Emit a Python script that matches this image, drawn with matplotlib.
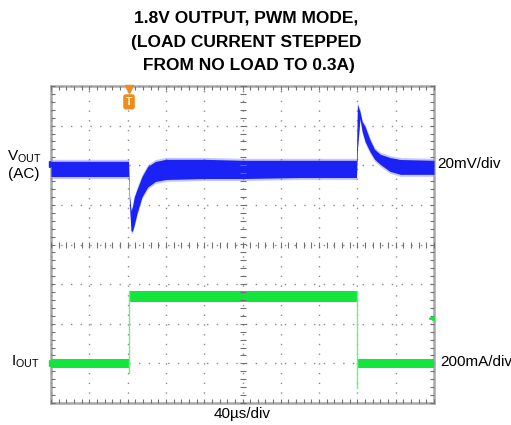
import numpy as np
import matplotlib
matplotlib.use("Agg")
import matplotlib.pyplot as plt
from matplotlib.ticker import MultipleLocator

# --- scope settings (per division) ---
T_DIV = 40.0      # us/div
V_DIV = 20.0      # mV/div
I_DIV = 200.0     # mA/div

# --- VOUT (AC) trace envelope, screen position in mV from graticule centre ---
vout_t = [0, 81, 82, 83.5, 85, 87, 90, 95, 101, 109, 120, 160, 200, 260, 319,
          320, 322.7, 325, 328, 333, 338, 344, 354, 365, 400]
vout_hi = [42, 42, 25, 17, 19, 24, 28, 34.3, 39.4, 41.9, 43, 43, 42.5, 42.5, 42.5,
           70.7, 67.2, 62, 59.6, 53, 48, 45.5, 43.9, 42.9, 42.5]
vout_lo = [34.3, 34.3, 20, 7, 6.6, 10, 16, 24, 29, 31.8, 32.8, 33.3, 33.3, 33.8, 33.8,
           48, 63.6, 57, 52, 47, 43, 40.4, 36.9, 35.4, 35.4]

# --- IOUT trace, screen position in mA from graticule centre ---
iout_low_hi = -576
iout_low_lo = -621
iout_high_hi = -237
iout_high_lo = -288
t_rise = 81.5
t_fall = 319.6
iout_rise_min = -651
iout_fall_min = -722

TITLE = "1.8V OUTPUT, PWM MODE,\n(LOAD CURRENT STEPPED\n FROM NO LOAD TO 0.3A)"

BLUE = "#1a22f5"
GREEN = "#12e63c"
GRID = "#8a8a8a"

fig = plt.figure(figsize=(5.11, 4.25), dpi=100)
ax = fig.add_axes([51 / 511, 22 / 425, 383 / 511, 317 / 425])
ax.set_xlim(0, 10)
ax.set_ylim(-4, 4)

# graticule
for s in ax.spines.values():
    s.set_color("#a8a8a8")
    s.set_linewidth(1.8)
ax.xaxis.set_major_locator(MultipleLocator(1))
ax.yaxis.set_major_locator(MultipleLocator(1))
ax.xaxis.set_minor_locator(MultipleLocator(0.2))
ax.yaxis.set_minor_locator(MultipleLocator(0.2))
ax.tick_params(which="both", direction="in", length=3, width=0.8, color="#707070",
               top=True, right=True, labelbottom=False, labelleft=False)
ax.grid(True, which="major", color=GRID, linestyle=(0, (1, 6)), linewidth=1.0, zorder=5)
ax.set_axisbelow(False)

# centre crosshair with small ticks
minor = np.arange(0, 10.001, 0.2)
ax.plot(minor, np.zeros_like(minor), ls="none", marker="|", ms=5, mew=0.8,
        color="#707070", zorder=5)
ymin = np.arange(-4, 4.001, 0.2)
ax.plot(np.full_like(ymin, 5), ymin, ls="none", marker="_", ms=5, mew=0.8,
        color="#707070", zorder=5)

# VOUT trace
vt = np.array(vout_t) / T_DIV
vh = np.array(vout_hi) / V_DIV
vl = np.array(vout_lo) / V_DIV
ax.fill_between(vt, vl - 0.05, vh + 0.05, color=BLUE, alpha=0.25, lw=0, zorder=2)
ax.fill_between(vt, vl, vh, color=BLUE, lw=0, zorder=3)

# IOUT trace
r, f = t_rise / T_DIV, t_fall / T_DIV
ax.fill_between([0, r], iout_low_lo / I_DIV, iout_low_hi / I_DIV, color=GREEN, lw=0, zorder=3)
ax.fill_between([r + 0.03, f], iout_high_lo / I_DIV, iout_high_hi / I_DIV, color=GREEN, lw=0, zorder=3)
ax.fill_between([f + 0.02, 10], iout_low_lo / I_DIV, iout_low_hi / I_DIV, color=GREEN, lw=0, zorder=3)
ax.plot([r, r], [iout_rise_min / I_DIV, iout_high_hi / I_DIV], color="#70f080", lw=1.0, zorder=3)
ax.plot([f, f], [iout_high_hi / I_DIV, iout_fall_min / I_DIV], color="#70f080", lw=1.0, zorder=3)

# channel markers
ax.plot([0.02], [2.02], marker=">", ms=5, color=BLUE, clip_on=False, zorder=6)
ax.plot([0.02], [-3.0], marker=">", ms=4, color=GREEN, clip_on=False, zorder=6)
ax.annotate("", xy=(9.78, -1.87), xytext=(9.98, -1.87),
            arrowprops=dict(arrowstyle="-|>", color=GREEN, lw=1.2, mutation_scale=7), zorder=6)

# trigger marker
ax.plot([r], [3.92], marker="v", ms=6, color="#f08a1c", clip_on=False, zorder=6)
ax.text(r, 3.6, "T", ha="center", va="center", fontsize=7.5, fontweight="bold", color="white",
        family="Liberation Sans",
        bbox=dict(boxstyle="round,pad=0.25", fc="#f08a1c", ec="none"), zorder=6)

# labels
fig.text(246 / 511, 1 - 42 / 425, TITLE, ha="center", va="center", fontsize=12.5,
         fontweight="bold", family=["Liberation Sans", "DejaVu Sans"], linespacing=1.72)
lab = dict(fontsize=11, family=["Liberation Sans", "DejaVu Sans"])
fig.text(24 / 511, 1 - 157 / 425, r"V$_{\mathregular{OUT}}$", ha="center", va="center", **lab)
fig.text(24 / 511, 1 - 174 / 425, "(AC)", ha="center", va="center", **lab)
fig.text(25 / 511, 1 - 362 / 425, r"I$_{\mathregular{OUT}}$", ha="center", va="center", **lab)
fig.text(437 / 511, 1 - 164 / 425, "20mV/div", ha="left", va="center", **lab)
fig.text(440 / 511, 1 - 362 / 425, "200mA/div", ha="left", va="center", **lab)
fig.text(242 / 511, 1 - 414 / 425, "40µs/div", ha="center", va="center", **lab)

fig.savefig("out.png", dpi=100)
